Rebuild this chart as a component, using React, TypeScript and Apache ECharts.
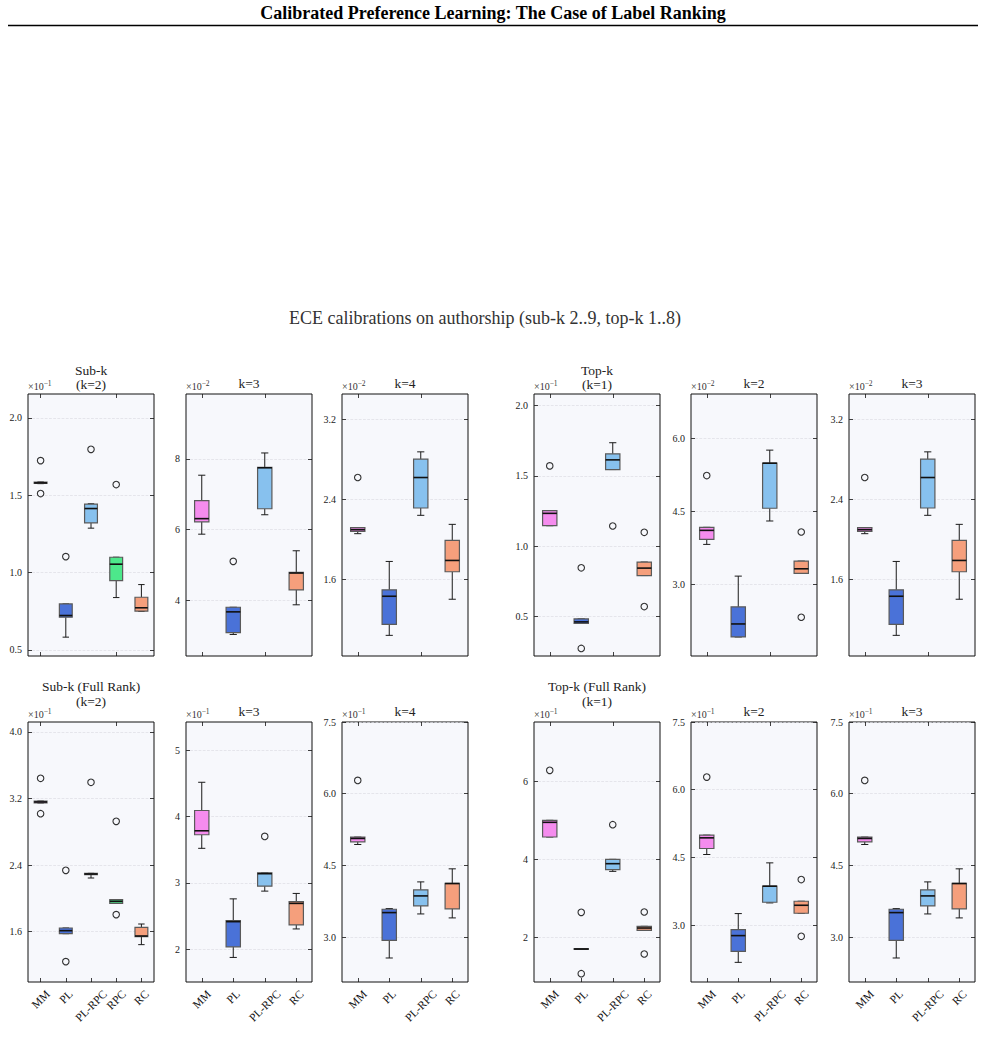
import React, { useEffect, useRef } from "react";
import * as echarts from "echarts";

const FONT = '"Liberation Serif", "DejaVu Serif", serif';

// ---------- categories ----------
const CATS_FIVE = ["MM", "PL", "PL-RPC", "RPC", "RC"];
const CATS_FOUR = ["MM", "PL", "PL-RPC", "RC"];
const CAT_COLORS: Record<string, string> = {
  MM: "#f58cee",
  PL: "#4a72d8",
  "PL-RPC": "#87c1ee",
  RPC: "#4de88b",
  RC: "#f59f7c",
};

// ---------- box statistics: [min, q1, median, q3, max] ----------
// Sub-k (k=2), x10^-1
const subK2Box = [
  [1.575, 1.576, 1.58, 1.585, 1.586],
  [0.582, 0.711, 0.722, 0.797, 0.797],
  [1.287, 1.321, 1.414, 1.442, 1.445],
  [0.838, 0.948, 1.054, 1.099, 1.099],
  [0.748, 0.75, 0.772, 0.84, 0.922],
];
const subK2Out = [[0, 1.724], [0, 1.511], [1, 1.103], [2, 1.797], [3, 1.569]];
const subK2Ticks = [0.5, 1.0, 1.5, 2.0];

// Sub-k k=3, x10^-2
const subK3Box = [
  [5.87, 6.22, 6.31, 6.82, 7.54],
  [3.03, 3.08, 3.67, 3.8, 3.8],
  [6.42, 6.59, 7.75, 7.76, 8.17],
  [3.87, 4.29, 4.77, 4.79, 5.4],
];
const subK3Out = [[1, 5.1]];
const subK3Ticks = [4, 6, 8];

// Sub-k k=4, x10^-2
const subK4Box = [
  [2.057, 2.08, 2.097, 2.117, 2.117],
  [1.043, 1.153, 1.433, 1.497, 1.78],
  [2.24, 2.313, 2.617, 2.8, 2.873],
  [1.403, 1.677, 1.79, 1.99, 2.15],
];
const subK4Out = [[0, 2.617]];
const subK4Ticks = [1.6, 2.4, 3.2];

// Top-k (k=1), x10^-1
const topK1Box = [
  [1.145, 1.145, 1.233, 1.252, 1.252],
  [0.45, 0.45, 0.46, 0.481, 0.481],
  [1.545, 1.545, 1.614, 1.657, 1.736],
  [0.79, 0.79, 0.843, 0.886, 0.886],
];
const topK1Out = [[0, 1.571], [1, 0.845], [1, 0.271], [2, 1.143], [3, 1.098], [3, 0.569]];
const topK1Ticks = [0.5, 1.0, 1.5, 2.0];

// Top-k k=2, x10^-2
const topK2Box = [
  [3.818, 3.92, 4.107, 4.169, 4.169],
  [1.912, 1.912, 2.18, 2.531, 3.165],
  [4.3, 4.562, 5.49, 5.49, 5.759],
  [3.22, 3.22, 3.316, 3.474, 3.474],
];
const topK2Out = [[0, 5.236], [3, 4.073], [3, 2.318]];
const topK2Ticks = [3.0, 4.5, 6.0];

// Top-k k=3, x10^-2
const topK3Box = [
  [2.057, 2.08, 2.097, 2.117, 2.117],
  [1.043, 1.153, 1.433, 1.497, 1.78],
  [2.24, 2.313, 2.617, 2.8, 2.873],
  [1.403, 1.677, 1.79, 1.99, 2.15],
];
const topK3Out = [[0, 2.617]];
const topK3Ticks = [1.6, 2.4, 3.2];

// Sub-k (Full Rank) (k=2), x10^-1
const subFull2Box = [
  [3.147, 3.147, 3.159, 3.17, 3.17],
  [1.576, 1.576, 1.612, 1.644, 1.644],
  [2.245, 2.285, 2.293, 2.301, 2.301],
  [1.94, 1.94, 1.965, 1.985, 1.985],
  [1.444, 1.54, 1.548, 1.652, 1.692],
];
const subFull2Out = [[0, 3.443], [0, 3.018], [1, 2.337], [1, 1.24], [2, 3.395], [3, 2.926], [3, 1.805]];
const subFull2Ticks = [1.6, 2.4, 3.2, 4.0];

// Sub-k (Full Rank) k=3, x10^-1
const subFull3Box = [
  [3.523, 3.728, 3.788, 4.094, 4.52],
  [1.876, 2.036, 2.416, 2.431, 2.76],
  [2.877, 2.952, 3.14, 3.152, 3.152],
  [2.306, 2.366, 2.692, 2.717, 2.842],
];
const subFull3Out = [[2, 3.703]];
const subFull3Ticks = [2, 3, 4, 5];

// Sub-k (Full Rank) k=4, x10^-1
const subFull4Box = [
  [4.939, 4.995, 5.065, 5.093, 5.093],
  [2.566, 2.936, 3.515, 3.585, 3.599],
  [3.487, 3.655, 3.864, 3.99, 4.157],
  [3.404, 3.592, 4.122, 4.129, 4.43],
];
const subFull4Out = [[0, 6.279]];
const subFull4Ticks = [3.0, 4.5, 6.0, 7.5];

// Top-k (Full Rank) (k=1), x10^-1
const topFull1Box = [
  [4.576, 4.576, 4.951, 5.002, 5.002],
  [1.7, 1.7, 1.71, 1.72, 1.72],
  [3.697, 3.74, 3.893, 4.004, 4.004],
  [2.188, 2.188, 2.247, 2.29, 2.29],
];
const topFull1Out = [[0, 6.281], [1, 2.648], [1, 1.079], [2, 4.891], [3, 2.657], [3, 1.582]];
const topFull1Ticks = [2, 4, 6];

// Top-k (Full Rank) k=2, x10^-1
const topFull2Box = [
  [4.566, 4.699, 4.935, 4.994, 4.994],
  [2.178, 2.422, 2.77, 2.903, 3.258],
  [3.494, 3.509, 3.864, 3.864, 4.381],
  [3.265, 3.265, 3.442, 3.531, 3.531],
];
const topFull2Out = [[0, 6.28], [3, 4.011], [3, 2.755]];
const topFull2Ticks = [3.0, 4.5, 6.0, 7.5];

// Top-k (Full Rank) k=3, x10^-1
const topFull3Box = [
  [4.939, 4.995, 5.065, 5.093, 5.093],
  [2.566, 2.936, 3.515, 3.585, 3.599],
  [3.487, 3.655, 3.864, 3.99, 4.157],
  [3.404, 3.592, 4.122, 4.129, 4.43],
];
const topFull3Out = [[0, 6.279]];
const topFull3Ticks = [3.0, 4.5, 6.0, 7.5];

// ---------- panel descriptions ----------
const PANELS = [
  { titles: ["Sub-k", "(k=2)"], cats: CATS_FIVE, boxes: subK2Box, outliers: subK2Out, ticks: subK2Ticks, yMin: 0.46, yMax: 2.155, dec: 1, exp: "−1", row: 0, col: 0 },
  { titles: ["k=3"], cats: CATS_FOUR, boxes: subK3Box, outliers: subK3Out, ticks: subK3Ticks, yMin: 2.42, yMax: 9.84, dec: 0, exp: "−2", row: 0, col: 1 },
  { titles: ["k=4"], cats: CATS_FOUR, boxes: subK4Box, outliers: subK4Out, ticks: subK4Ticks, yMin: 0.837, yMax: 3.45, dec: 1, exp: "−2", row: 0, col: 2 },
  { titles: ["Top-k", "(k=1)"], cats: CATS_FOUR, boxes: topK1Box, outliers: topK1Out, ticks: topK1Ticks, yMin: 0.217, yMax: 2.083, dec: 1, exp: "−1", row: 0, col: 3 },
  { titles: ["k=2"], cats: CATS_FOUR, boxes: topK2Box, outliers: topK2Out, ticks: topK2Ticks, yMin: 1.52, yMax: 6.915, dec: 1, exp: "−2", row: 0, col: 4 },
  { titles: ["k=3"], cats: CATS_FOUR, boxes: topK3Box, outliers: topK3Out, ticks: topK3Ticks, yMin: 0.837, yMax: 3.45, dec: 1, exp: "−2", row: 0, col: 5 },
  { titles: ["Sub-k (Full Rank)", "(k=2)"], cats: CATS_FIVE, boxes: subFull2Box, outliers: subFull2Out, ticks: subFull2Ticks, yMin: 0.995, yMax: 4.12, dec: 1, exp: "−1", row: 1, col: 0 },
  { titles: ["k=3"], cats: CATS_FOUR, boxes: subFull3Box, outliers: subFull3Out, ticks: subFull3Ticks, yMin: 1.505, yMax: 5.43, dec: 0, exp: "−1", row: 1, col: 1 },
  { titles: ["k=4"], cats: CATS_FOUR, boxes: subFull4Box, outliers: subFull4Out, ticks: subFull4Ticks, yMin: 2.064, yMax: 7.5, dec: 1, exp: "−1", row: 1, col: 2 },
  { titles: ["Top-k (Full Rank)", "(k=1)"], cats: CATS_FOUR, boxes: topFull1Box, outliers: topFull1Out, ticks: topFull1Ticks, yMin: 0.866, yMax: 7.518, dec: 0, exp: "−1", row: 1, col: 3 },
  { titles: ["k=2"], cats: CATS_FOUR, boxes: topFull2Box, outliers: topFull2Out, ticks: topFull2Ticks, yMin: 1.743, yMax: 7.5, dec: 1, exp: "−1", row: 1, col: 4 },
  { titles: ["k=3"], cats: CATS_FOUR, boxes: topFull3Box, outliers: topFull3Out, ticks: topFull3Ticks, yMin: 2.064, yMax: 7.5, dec: 1, exp: "−1", row: 1, col: 5 },
];

const HEADER = "Calibrated Preference Learning: The Case of Label Ranking";
const SUPTITLE = "ECE calibrations on authorship (sub-k 2..9, top-k 1..8)";

// ---------- layout ----------
const COL_LEFT = [28, 186, 342, 534, 691, 849];
const PANEL_W = 126;
const ROW_TOP = [394, 722];
const ROW_H = [262, 260];
const TITLE_LAST_Y = [[384, 383], [701, 711]]; // [twoLine, oneLine]
const TITLE_GAP = [14, 15];
const LABEL_FS = 11.5;

function measure(text: string, size: number): number {
  const c = document.createElement("canvas").getContext("2d");
  if (!c) return text.length * size * 0.55;
  c.font = `${size}px "Liberation Serif"`;
  return c.measureText(text).width;
}

function buildOption() {
  const grid: any[] = [];
  const xAxis: any[] = [];
  const yAxis: any[] = [];
  const series: any[] = [];
  const graphic: any[] = [];

  graphic.push({
    type: "text",
    x: 493,
    y: 13,
    style: { text: HEADER, font: `bold 18px ${FONT}`, fill: "#000", textAlign: "center", textVerticalAlign: "middle" },
  });
  graphic.push({
    type: "line",
    shape: { x1: 8, y1: 25.5, x2: 978, y2: 25.5 },
    style: { stroke: "#000", lineWidth: 1.6 },
  });
  graphic.push({
    type: "text",
    x: 485,
    y: 318,
    style: { text: SUPTITLE, font: `18px ${FONT}`, fill: "#333", textAlign: "center", textVerticalAlign: "middle" },
  });

  PANELS.forEach((p, i) => {
    const left = COL_LEFT[p.col];
    const top = ROW_TOP[p.row];
    const h = ROW_H[p.row];
    const bottomRow = p.row === 1;
    grid.push({
      left,
      top,
      width: PANEL_W,
      height: h,
      show: true,
      backgroundColor: "#f7f8fc",
      borderColor: "#111",
      borderWidth: 1,
    });

    const rich: Record<string, any> = {};
    p.cats.forEach((c, k) => {
      const L = measure(c, LABEL_FS);
      rich["c" + k] = {
        fontSize: LABEL_FS,
        fontFamily: FONT,
        color: "#111",
        padding: [L / 2, L / 2, 0, 0],
      };
    });

    xAxis.push({
      type: "category",
      gridIndex: i,
      data: p.cats,
      position: "bottom",
      boundaryGap: true,
      axisLine: { show: false },
      axisTick: { show: true, inside: true, alignWithLabel: true, length: 4, lineStyle: { color: "#111", width: 0.8 } },
      axisLabel: bottomRow
        ? {
            show: true,
            interval: 0,
            rotate: 45,
            align: "center",
            verticalAlign: "middle",
            margin: 10,
            formatter: (v: string, idx: number) => `{c${idx}|${v}}`,
            rich,
          }
        : { show: false },
      splitLine: { show: false },
    });
    xAxis.push({
      type: "category",
      gridIndex: i,
      data: p.cats,
      position: "top",
      boundaryGap: true,
      axisLine: { show: false },
      axisTick: { show: true, inside: true, alignWithLabel: true, length: 4, lineStyle: { color: "#111", width: 0.8 } },
      axisLabel: { show: false },
      splitLine: { show: false },
    });
    yAxis.push({
      type: "value",
      gridIndex: i,
      position: "left",
      min: p.yMin,
      max: p.yMax,
      axisLine: { show: false },
      axisTick: { show: true, inside: true, length: 4, customValues: p.ticks, lineStyle: { color: "#111", width: 0.8 } },
      axisLabel: {
        show: true,
        customValues: p.ticks,
        formatter: (v: number) => v.toFixed(p.dec),
        fontSize: 10,
        fontFamily: FONT,
        color: "#222",
        margin: 6,
      },
      splitLine: { show: true, lineStyle: { color: "#dcdde4", type: "dashed", width: 0.7 } },
    });
    yAxis.push({
      type: "value",
      gridIndex: i,
      position: "right",
      min: p.yMin,
      max: p.yMax,
      axisLine: { show: false },
      axisTick: { show: true, inside: true, length: 4, customValues: p.ticks, lineStyle: { color: "#111", width: 0.8 } },
      axisLabel: { show: false },
      splitLine: { show: false },
    });

    const widthFactor = p.cats.length === 5 ? 0.51 : 0.455;
    const cats = p.cats;
    series.push({
      type: "custom",
      xAxisIndex: 2 * i,
      yAxisIndex: 2 * i,
      clip: false,
      encode: { x: 0, y: [1, 2, 3, 4, 5] },
      data: p.boxes.map((b, k) => [k, ...b]),
      renderItem: (params: any, api: any) => {
        const xi = api.value(0);
        const pMin = api.coord([xi, api.value(1)]);
        const pQ1 = api.coord([xi, api.value(2)]);
        const pMed = api.coord([xi, api.value(3)]);
        const pQ3 = api.coord([xi, api.value(4)]);
        const pMax = api.coord([xi, api.value(5)]);
        const band = api.size([1, 0])[0];
        const bw = band * widthFactor;
        const half = bw / 2;
        const cap = bw / 4;
        const cx = pMed[0];
        const color = CAT_COLORS[cats[xi]];
        const ws = { stroke: "#1a1a1a", lineWidth: 1 };
        return {
          type: "group",
          children: [
            { type: "line", shape: { x1: cx, y1: pMin[1], x2: cx, y2: pQ1[1] }, style: ws },
            { type: "line", shape: { x1: cx, y1: pQ3[1], x2: cx, y2: pMax[1] }, style: ws },
            { type: "line", shape: { x1: cx - cap, y1: pMin[1], x2: cx + cap, y2: pMin[1] }, style: ws },
            { type: "line", shape: { x1: cx - cap, y1: pMax[1], x2: cx + cap, y2: pMax[1] }, style: ws },
            {
              type: "rect",
              shape: { x: cx - half, y: pQ3[1], width: bw, height: Math.max(pQ1[1] - pQ3[1], 0.5) },
              style: { fill: color, stroke: "#5a5a5a", lineWidth: 1.2 },
            },
            { type: "line", shape: { x1: cx - half, y1: pMed[1], x2: cx + half, y2: pMed[1] }, style: { stroke: "#111", lineWidth: 1.6 } },
          ],
        };
      },
      z: 2,
    });
    series.push({
      type: "scatter",
      xAxisIndex: 2 * i,
      yAxisIndex: 2 * i,
      data: p.outliers.map((o) => [o[0], o[1]]),
      symbol: "circle",
      symbolSize: 6.5,
      itemStyle: { color: "rgba(0,0,0,0)", borderColor: "#000", borderWidth: 1.1 },
      z: 3,
    });

    // titles
    const n = p.titles.length;
    const lastY = TITLE_LAST_Y[p.row][n === 2 ? 0 : 1];
    p.titles.forEach((t, k) => {
      graphic.push({
        type: "text",
        x: left + PANEL_W / 2,
        y: lastY - (n - 1 - k) * TITLE_GAP[p.row],
        style: { text: t, font: `13.5px ${FONT}`, fill: "#222", textAlign: "center", textVerticalAlign: "middle" },
      });
    });
    // offset text
    graphic.push({
      type: "text",
      x: left,
      y: top - 8,
      style: {
        text: `{a|×10}{b|${p.exp}}`,
        textAlign: "left",
        textVerticalAlign: "middle",
        rich: {
          a: { fontSize: 10, fontFamily: FONT, fill: "#333", color: "#333" },
          b: { fontSize: 7.5, fontFamily: FONT, fill: "#333", color: "#333", padding: [0, 0, 6, 0] },
        },
      },
    });
  });

  return {
    animation: false,
    backgroundColor: "#ffffff",
    grid,
    xAxis,
    yAxis,
    series,
    graphic,
  };
}

export default function App() {
  const ref = useRef<HTMLDivElement>(null);
  useEffect(() => {
    if (!ref.current) return;
    const chart = echarts.init(ref.current, null, { renderer: "svg" });
    chart.setOption(buildOption() as any);
    return () => chart.dispose();
  }, []);
  return (
    <div
      ref={ref}
      style={{ position: "absolute", left: 0, top: 0, width: 985, height: 1041, background: "#fff" }}
    />
  );
}
